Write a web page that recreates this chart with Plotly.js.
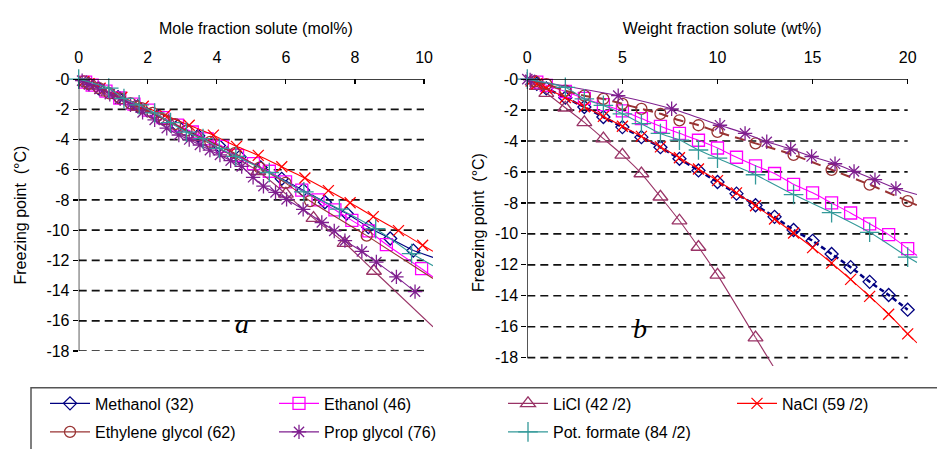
<!DOCTYPE html>
<html><head><meta charset="utf-8">
<script src="https://cdn.plot.ly/plotly-3.0.1.min.js"></script>
<style>html,body{margin:0;padding:0;background:#fff}#chart{width:937px;height:449px}</style>
</head><body><div id="chart"></div>
<script>
// ---------- series meta ----------
const seriesNames = ['Methanol (32)', 'Ethanol (46)', 'LiCl (42 /2)', 'NaCl (59 /2)',
                     'Ethylene glycol (62)', 'Prop glycol (76)', 'Pot. formate (84 /2)'];
const legendOf = ['legend', 'legend', 'legend', 'legend3', 'legend2', 'legend2', 'legend2'];

// ---------- panel a : mole fraction (mol%) ----------
const molMethanolX = [0.28, 0.57, 1.14, 1.71, 2.29, 2.87, 3.46, 4.06, 4.66, 5.27, 5.88, 6.5, 7.13, 7.76, 8.39, 9.02, 9.69];
const molMethanolY = [-0.3, -0.6, -1.2, -1.8, -2.45, -3.1, -3.75, -4.4, -5.15, -5.85, -6.6, -7.35, -8.15, -8.9, -9.8, -10.55, -11.35];
const molEthanolX = [0.2, 0.39, 0.79, 1.19, 1.6, 2.02, 2.44, 2.86, 3.29, 3.72, 4.16, 4.6, 5.06, 5.52, 5.99, 6.46, 6.93, 7.42, 7.91, 8.4, 8.91, 9.93];
const molEthanolY = [-0.2, -0.4, -0.8, -1.25, -1.65, -2.05, -2.55, -3.05, -3.5, -3.95, -4.45, -5.05, -5.6, -6.1, -6.8, -7.35, -8.0, -8.65, -9.35, -10.05, -10.95, -12.55];
const molLiClX = [0.43, 0.86, 1.7, 2.6, 3.45, 4.3, 5.2, 6.0, 6.8, 7.7, 8.55];
const molLiClY = [-0.45, -0.9, -1.85, -2.8, -3.85, -4.9, -6.1, -7.6, -9.2, -10.85, -12.7];
const molNaClX = [0.15, 0.3, 0.62, 1.25, 1.87, 2.5, 3.2, 3.9, 4.57, 5.2, 5.88, 6.55, 7.23, 7.86, 8.53, 9.26, 9.96];
const molNaClY = [-0.15, -0.3, -0.6, -1.2, -1.8, -2.4, -3.05, -3.71, -4.45, -5.05, -5.8, -6.55, -7.38, -8.18, -9.1, -10.03, -11.0];
const molGlycolX = [0.15, 0.29, 0.59, 0.89, 1.2, 1.5, 1.82, 2.14, 2.46, 2.79, 3.12, 3.81, 4.52, 5.24, 5.99, 6.7, 8.34];
const molGlycolY = [-0.15, -0.3, -0.6, -0.95, -1.28, -1.6, -1.92, -2.24, -2.66, -2.98, -3.41, -4.15, -4.9, -5.86, -6.87, -8.07, -10.36];
const molPropX = [0.1, 0.3, 0.6, 0.9, 1.2, 1.5, 1.85, 2.2, 2.55, 2.9, 3.2, 3.51, 3.8, 4.09, 4.4, 4.72, 5.05, 5.35, 5.7, 6.02, 6.5, 7.04, 7.4, 7.71, 8.2, 8.62, 9.2, 9.74];
const molPropY = [-0.1, -0.35, -0.65, -1.0, -1.3, -1.7, -2.2, -2.7, -3.25, -3.7, -4.0, -4.36, -4.7, -5.02, -5.4, -5.78, -6.5, -7.09, -7.5, -7.96, -8.62, -9.49, -10.05, -10.69, -11.4, -12.11, -13.09, -14.07];
const molFormateX = [0, 0.87, 1.31, 1.75, 2.2, 2.66, 3.12, 3.6, 4.07, 4.55, 5.52, 6.52, 7.55, 8.6, 9.64];
const molFormateY = [0, -0.6, -1.28, -1.7, -2.24, -2.88, -3.51, -3.94, -4.58, -5.11, -6.18, -7.46, -8.6, -9.9, -11.55];
// where each trend line of panel a runs out (null = ends at last point)
const molTrendEndX = [10.26, 10.26, 10.26, 10.26, 10.26, null, 10.26];
const molTrendEndY = [-11.8, -13.1, -16.4, -11.4, -13.2, null, -12.35];

// ---------- panel b : weight fraction (wt%) ----------
const wtMethanolX = [0.5, 1, 2, 3, 4, 5, 6, 7, 8, 9, 10, 11, 12, 13, 14, 15, 16, 17, 18, 19, 20];
const wtMethanolY = [-0.3, -0.6, -1.2, -1.8, -2.45, -3.1, -3.75, -4.4, -5.15, -5.9, -6.65, -7.4, -8.15, -8.9, -9.75, -10.45, -11.3, -12.15, -13.1, -13.95, -14.9];
const wtEthanolX = [0.5, 1, 2, 3, 4, 5, 6, 7, 8, 9, 10, 11, 12, 13, 14, 15, 16, 17, 18, 19, 20];
const wtEthanolY = [-0.2, -0.4, -0.8, -1.25, -1.65, -2.05, -2.55, -3.05, -3.5, -3.95, -4.45, -5.05, -5.6, -6.1, -6.8, -7.35, -8.0, -8.65, -9.35, -10.05, -10.95];
const wtLiClX = [0.5, 1, 2, 3, 4, 5, 6, 7, 8, 9, 10, 12];
const wtLiClY = [-0.45, -0.9, -1.85, -2.8, -3.85, -4.9, -6.1, -7.6, -9.15, -10.85, -12.65, -16.7];
const wtNaClX = [0.2, 0.5, 1, 2, 3, 4, 5, 6, 7, 8, 9, 10, 11, 12, 13, 14, 15, 16, 17, 18, 19, 20];
const wtNaClY = [-0.12, -0.3, -0.59, -1.19, -1.79, -2.41, -3.05, -3.7, -4.38, -5.08, -5.81, -6.56, -7.35, -8.18, -9.04, -9.94, -10.89, -11.89, -12.94, -14.04, -15.19, -16.46];
const wtGlycolX = [0.4, 1, 2, 3, 4, 5, 6, 7, 8, 9, 10, 12, 14, 16, 18, 20];
const wtGlycolY = [-0.15, -0.32, -0.75, -1.07, -1.28, -1.6, -1.92, -2.24, -2.66, -2.98, -3.41, -4.15, -4.9, -5.86, -6.82, -7.88];
const wtPropX = [0, 0.15, 4.78, 7.59, 10.13, 11.45, 12.59, 13.85, 14.95, 16.18, 17.18, 18.28, 19.38];
const wtPropY = [0, -0.05, -1.07, -1.92, -2.98, -3.51, -4.05, -4.52, -5.0, -5.47, -5.96, -6.5, -7.07];
const wtFormateX = [0, 2, 3, 4, 5, 6, 7, 8, 9, 10, 12, 14, 16, 18, 20];
const wtFormateY = [0, -0.53, -1.28, -1.7, -2.24, -2.88, -3.51, -3.94, -4.58, -5.11, -6.18, -7.46, -8.63, -9.9, -11.5];
const wtTrendEndX = [null, 20.49, 13.2, 20.49, 20.49, 20.49, 20.49];
const wtTrendEndY = [null, -11.4, -19.1, -17.05, -8.15, -7.46, -11.85];

// ---------- axes ticks ----------
const molTicks = [0, 2, 4, 6, 8, 10];
const wtTicks = [0, 5, 10, 15, 20];
const tempTicks = [0, -2, -4, -6, -8, -10, -12, -14, -16, -18];
const tempTickText = ['-0', '-2', '-4', '-6', '-8', '-10', '-12', '-14', '-16', '-18'];

// ---------- styling ----------
const colors = ['#000080', '#FF00FF', '#993366', '#FF0000', '#993333', '#7F1F8F', '#339999'];
const symbols = ['diamond-open', 'square-open', 'triangle-up-open', 'x-thin-open', 'circle-open', 'asterisk-open', 'cross-thin-open'];
const sizes = [10, 12, 13, 11, 11, 12, 14];
const FONT = 'Liberation Sans, Arial, sans-serif';

const molX = [molMethanolX, molEthanolX, molLiClX, molNaClX, molGlycolX, molPropX, molFormateX];
const molY = [molMethanolY, molEthanolY, molLiClY, molNaClY, molGlycolY, molPropY, molFormateY];
const wtX = [wtMethanolX, wtEthanolX, wtLiClX, wtNaClX, wtGlycolX, wtPropX, wtFormateX];
const wtY = [wtMethanolY, wtEthanolY, wtLiClY, wtNaClY, wtGlycolY, wtPropY, wtFormateY];

const traces = [];
function addPanel(xs, ys, endX, endY, xa, ya, isLeft) {
  for (let i = 0; i < seriesNames.length; i++) {
    let dash = 'solid', lw = 1.1;
    if (!isLeft && i === 0) { dash = '5px,3px'; lw = 2.5; }
    if (!isLeft && i === 4) { dash = '10px,6px'; lw = 2; }
    if (endX[i] !== null) {
      const n = xs[i].length;
      traces.push({
        x: [xs[i][n - 1], endX[i]], y: [ys[i][n - 1], endY[i]],
        xaxis: xa, yaxis: ya, mode: 'lines', showlegend: false, hoverinfo: 'skip',
        line: {color: colors[i], width: lw, dash: dash}
      });
    }
    traces.push({
      x: xs[i], y: ys[i], name: seriesNames[i], xaxis: xa, yaxis: ya,
      mode: 'lines+markers', cliponaxis: false,
      showlegend: isLeft, legend: legendOf[i],
      line: {color: colors[i], width: lw, dash: dash, shape: 'spline', smoothing: 0.6},
      marker: {symbol: symbols[i], size: sizes[i], color: colors[i], line: {color: colors[i], width: 1.3}}
    });
  }
}
addPanel(molX, molY, molTrendEndX, molTrendEndY, 'x', 'y', true);
addPanel(wtX, wtY, wtTrendEndX, wtTrendEndY, 'x2', 'y2', false);

// axis lines + dashed grid as shapes (stop at last tick like the original)
const shapes = [];
function frame(xref, yref, xmax) {
  shapes.push({type: 'line', xref: xref, yref: yref, x0: 0, x1: xmax, y0: 0, y1: 0, line: {color: '#000', width: 1.3}});
  shapes.push({type: 'line', xref: xref, yref: yref, x0: 0, x1: 0, y0: 0, y1: tempTicks[tempTicks.length - 1], line: {color: '#000', width: 1.3}});
  tempTicks.slice(1).forEach(v => shapes.push({type: 'line', xref: xref, yref: yref, x0: 0, x1: xmax, y0: v, y1: v,
    line: {color: '#111', width: 1.7, dash: '8px,5px'}, layer: 'below'}));
}
frame('x', 'y', molTicks[molTicks.length - 1]);
frame('x2', 'y2', wtTicks[wtTicks.length - 1]);
// legend frame
shapes.push({type: 'rect', xref: 'paper', yref: 'paper', x0: 31 / 937, x1: 1.02, y0: 1 - 392 / 449, y1: -0.05,
  line: {color: '#555', width: 1.5}, fillcolor: 'rgba(0,0,0,0)'});

const xCommon = {side: 'top', ticks: 'inside', ticklen: 5, tickwidth: 1.2, tickcolor: '#000', showgrid: false,
  zeroline: false, showline: false, tickfont: {family: FONT, size: 16, color: '#000'}, ticklabelstandoff: 12};
const yCommon = {ticks: 'outside', ticklen: 5, tickwidth: 1.2, tickcolor: '#000', showgrid: false, zeroline: false,
  showline: false, tickvals: tempTicks, ticktext: tempTickText, tickfont: {family: FONT, size: 16, color: '#000'}};

const legendCommon = {orientation: 'h', xanchor: 'left', yanchor: 'middle', font: {family: FONT, size: 16, color: '#000'},
  entrywidth: 174, entrywidthmode: 'pixels', itemwidth: 40, bgcolor: 'rgba(0,0,0,0)', borderwidth: 0, traceorder: 'normal'};

const layout = {
  width: 937, height: 449, margin: {l: 0, r: 0, t: 0, b: 0},
  paper_bgcolor: '#fff', plot_bgcolor: 'rgba(0,0,0,0)', font: {family: FONT, color: '#000'},
  xaxis: Object.assign({}, xCommon, {domain: [78.7 / 937, 433 / 937], range: [0, 10.26], tickvals: molTicks, anchor: 'y',
    title: {text: 'Mole fraction solute (mol%)', font: {family: FONT, size: 16, color: '#000'}, standoff: 10}}),
  yaxis: Object.assign({}, yCommon, {domain: [1 - 355 / 449, 1 - 80 / 449], range: [-18, 0], anchor: 'x',
    title: {text: 'Freezing point  (°C)', font: {family: FONT, size: 16, color: '#000'}, standoff: 15}}),
  xaxis2: Object.assign({}, xCommon, {domain: [527.3 / 937, 917 / 937], range: [0, 20.49], tickvals: wtTicks, anchor: 'y2',
    title: {text: 'Weight fraction solute (wt%)', font: {family: FONT, size: 16, color: '#000'}, standoff: 10}}),
  yaxis2: Object.assign({}, yCommon, {domain: [1 - 370 / 449, 1 - 80 / 449], range: [-18.53, 0], anchor: 'x2',
    title: {text: 'Freezing point  (°C)', font: {family: FONT, size: 16, color: '#000'}, standoff: 6}}),
  legend: Object.assign({}, legendCommon, {x: 45 / 937, y: 1 - 408 / 449}),
  legend2: Object.assign({}, legendCommon, {x: 45 / 937, y: 1 - 437 / 449}),
  legend3: Object.assign({}, legendCommon, {x: 732 / 937, y: 1 - 408 / 449, entrywidth: 100}),
  shapes: shapes,
  annotations: [
    {xref: 'paper', yref: 'paper', x: 233 / 937, y: 1 - 345 / 449, text: '<i>a</i>', showarrow: false,
     font: {family: 'Liberation Serif, Times New Roman, serif', size: 28, color: '#000'}},
    {xref: 'paper', yref: 'paper', x: 649 / 937, y: 1 - 350 / 449, text: '<i>b</i>', showarrow: false,
     font: {family: 'Liberation Serif, Times New Roman, serif', size: 28, color: '#000'}}
  ],
  showlegend: true
};

Plotly.newPlot('chart', traces, layout, {displayModeBar: false, staticPlot: true});
</script>
</body></html>
